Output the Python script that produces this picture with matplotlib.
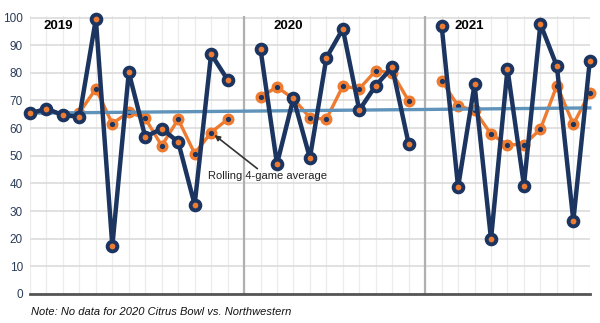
import matplotlib.pyplot as plt
import numpy as np

plt.rcParams['font.family'] = ['Liberation Sans', 'DejaVu Sans']

# game scores per season
seasons = ["2019", "2020", "2021"]
scores_2019 = [65.3, 67.0, 64.7, 64.1, 99.5, 17.3, 80.2, 56.8, 59.8, 55.0, 32.3, 86.8, 77.5]
rolling_2019 = [65.3, 67.0, 64.7, 65.6, 74.2, 61.6, 65.8, 63.5, 53.6, 63.2, 50.8, 58.4, 63.2]
scores_2020 = [88.6, 47.0, 70.8, 49.2, 85.4, 95.9, 66.5, 75.4, 82.0, 54.2]
rolling_2020 = [71.2, 74.9, 70.6, 63.8, 63.2, 75.2, 74.2, 80.8, 80.0, 69.8]
scores_2021 = [97.1, 38.6, 75.8, 19.8, 81.4, 39.2, 97.7, 82.4, 26.4, 84.4]
rolling_2021 = [77.2, 68.0, 66.4, 57.8, 54.0, 54.0, 59.6, 75.4, 61.4, 72.8]
trend_start, trend_end = 65.4, 67.3

navy = "#1b3560"
orange = "#ee7b30"
trend_color = "#5f93ba"

fig = plt.figure(figsize=(6, 3.23), dpi=100)
ax = fig.add_axes([0.05, 0.09, 0.933, 0.86])

all_scores = [scores_2019, scores_2020, scores_2021]
all_rolling = [rolling_2019, rolling_2020, rolling_2021]

start = 0
separators = []
label_x = []
for i in range(len(seasons)):
    x = np.arange(start, start + len(all_scores[i]))
    ax.plot(x, all_rolling[i], color=orange, lw=2.4, marker="o", ms=6.2,
            mfc=navy, mec=orange, mew=2.4, zorder=3, clip_on=False)
    ax.plot(x, all_scores[i], color=navy, lw=3.2, marker="o", ms=7,
            mfc=orange, mec=navy, mew=2.8, zorder=5, clip_on=False)
    label_x.append(start + 0.8)
    start += len(all_scores[i])
    if i < len(seasons) - 1:
        separators.append(start)
        start += 1
last = start - 1

ax.plot([0, last], [trend_start, trend_end], color=trend_color, lw=2.4,
        zorder=4, clip_on=False)

for s in separators:
    ax.axvline(s, color="#b0b0b0", lw=1.6, zorder=1)

for i, name in enumerate(seasons):
    ax.text(label_x[i], 97, name, fontsize=9.5, fontweight="bold",
            ha="left", va="center", color="black", zorder=6)

ax.annotate("Rolling 4-game average", xy=(11.2, 57.5), xytext=(10.8, 42.5),
            fontsize=8, color="#222222", ha="left", va="center",
            arrowprops=dict(arrowstyle="-|>", color="#333333", lw=1.2,
                            shrinkA=0, shrinkB=0, mutation_scale=8),
            zorder=6)

ax.set_xlim(0, last)
ax.set_ylim(0, 100.5)
ax.set_yticks(range(0, 101, 10))
ax.set_xticks(range(0, last + 1))
ax.set_xticklabels([])
ax.tick_params(axis="both", length=0, labelsize=8.5, labelcolor="#2b3d58", pad=5)
ax.grid(axis="y", color="#d9d9d9", lw=1.1, zorder=0)
ax.grid(axis="x", color="#ececec", lw=0.9, zorder=0)
for side in ["top", "right", "left"]:
    ax.spines[side].set_visible(False)
ax.spines["bottom"].set_color("#555555")
ax.spines["bottom"].set_linewidth(2)
ax.set_axisbelow(True)

fig.text(0.052, 0.035, "Note: No data for 2020 Citrus Bowl vs. Northwestern",
         fontsize=8, style="italic", color="#111111", ha="left", va="center")

fig.savefig("out.png", dpi=100)
